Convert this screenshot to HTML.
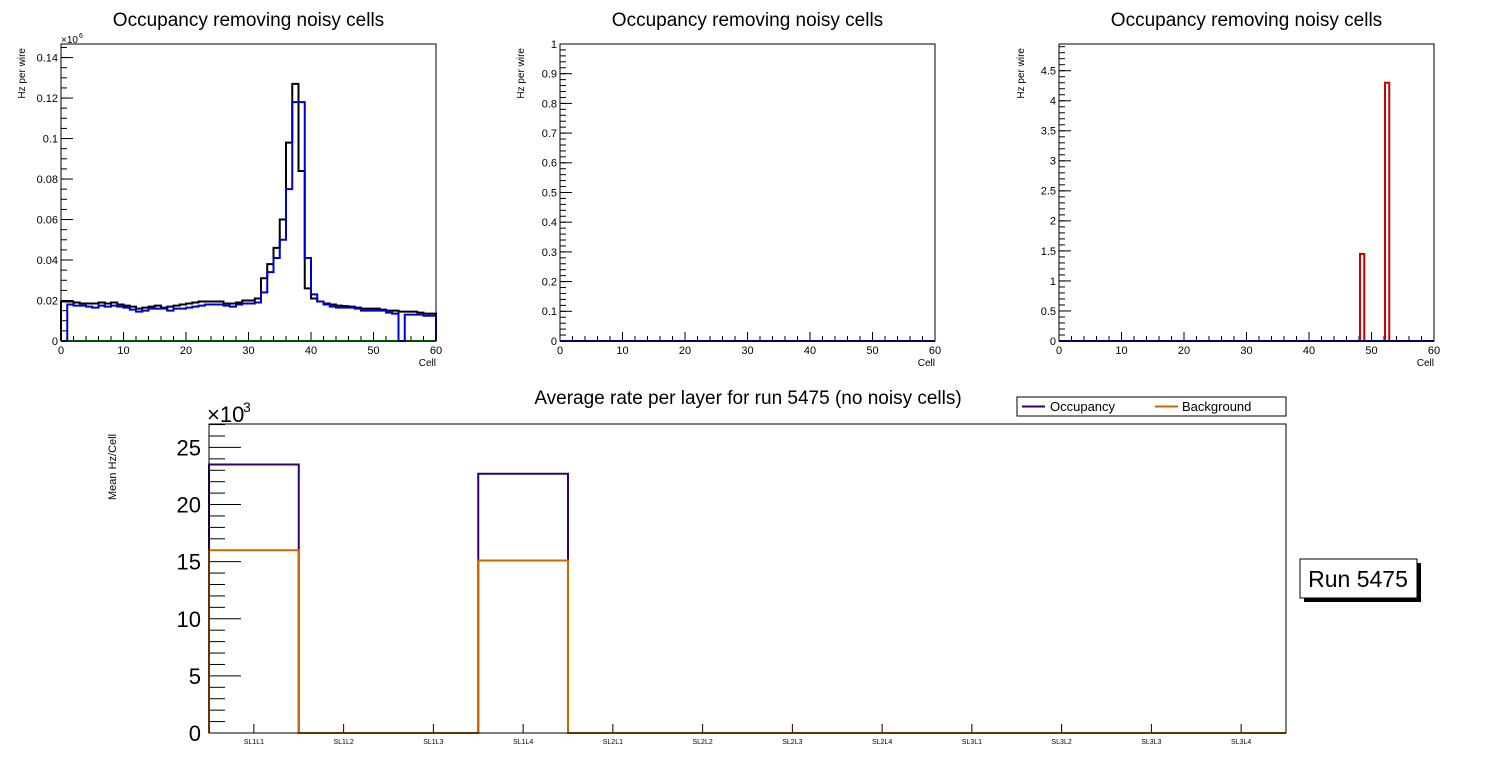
<!DOCTYPE html>
<html><head><meta charset="utf-8"><style>
body{margin:0;background:#fff;}
svg{display:block;font-family:"Liberation Sans",sans-serif;}
</style></head><body>
<svg id="c" width="1496" height="772" xmlns="http://www.w3.org/2000/svg"></svg>
<script>
const cells = Array.from({length:60},(_,i)=>i);
const occBlack = [0.0195,0.0195,0.019,0.0185,0.0185,0.0185,0.019,0.0185,0.019,0.018,0.0175,0.017,0.016,0.0165,0.017,0.0175,0.0165,0.017,0.0175,0.018,0.0185,0.019,0.0195,0.0195,0.0195,0.0195,0.0185,0.0185,0.019,0.02,0.02,0.021,0.031,0.038,0.046,0.060,0.098,0.127,0.084,0.026,0.021,0.0195,0.0185,0.018,0.0175,0.0172,0.017,0.0165,0.016,0.016,0.016,0.0155,0.015,0.015,0.0145,0.0145,0.0145,0.014,0.0135,0.0135];
const occBlue = [0,0.018,0.0175,0.0175,0.017,0.0165,0.0175,0.017,0.0175,0.017,0.0165,0.0155,0.0145,0.015,0.016,0.016,0.016,0.015,0.016,0.016,0.0165,0.017,0.0175,0.018,0.018,0.018,0.0175,0.017,0.018,0.0185,0.0185,0.019,0.024,0.034,0.041,0.050,0.075,0.118,0.118,0.041,0.023,0.0195,0.018,0.017,0.0165,0.0165,0.0165,0.016,0.015,0.015,0.015,0.015,0.014,0.0135,0,0.013,0.013,0.013,0.0125,0.0125];
const zeros60 = new Array(60).fill(0);
const noisyBins = [48,52];
const noisyVals = [1.45,4.3];
const layers = ["SL1L1","SL1L2","SL1L3","SL1L4","SL2L1","SL2L2","SL2L3","SL2L4","SL3L1","SL3L2","SL3L3","SL3L4"];
const occLayer = [23.5,0,0,22.7,0,0,0,0,0,0,0,0];
const bkgLayer = [16.0,0,0,15.1,0,0,0,0,0,0,0,0];
const ticksTL = ["0","0.02","0.04","0.06","0.08","0.1","0.12","0.14"];
const ticksTM = ["0","0.1","0.2","0.3","0.4","0.5","0.6","0.7","0.8","0.9","1"];
const ticksTR = ["0","0.5","1","1.5","2","2.5","3","3.5","4","4.5"];
const ticksB = ["0","5","10","15","20","25"];

const svg=document.getElementById('c');
const NS="http://www.w3.org/2000/svg";
function mk(tag,attrs,parent){const e=document.createElementNS(NS,tag);for(const k in attrs)e.setAttribute(k,attrs[k]);(parent||svg).appendChild(e);return e;}
function txt(s,x,y,size,anchor,parent,rot){const t=mk('text',{x:x,y:y,'font-size':size,'text-anchor':anchor||'start',fill:'#000'},parent);if(rot)t.setAttribute('transform',rot);t.textContent=s;return t;}

function panel(o){
  const g=mk('g',{});
  
  
  const sx=v=>o.x0+(v-o.xmin)/(o.xmax-o.xmin)*(o.x1-o.x0);
  const sy=v=>o.y1-(v/o.ymax)*(o.y1-o.y0);
  o.sx=sx;o.sy=sy;o.g=g;
  o.yt.forEach((lab,i)=>{
    const v=parseFloat(lab);const y=sy(v);
    const l=mk('line',{x1:o.x0,x2:o.x0+o.ymaj,y1:y,y2:y,stroke:'#000','stroke-width':1},g);
    
    const t=txt(lab,o.x0-3,y+o.yfs*0.35,o.yfs,'end',g);
    
  });
  for(let v=0;v<=o.ymax+1e-9;v+=o.ystepMin){
    const y=sy(v);mk('line',{x1:o.x0,x2:o.x0+o.ymaj/2,y1:y,y2:y,stroke:'#000','stroke-width':1},g);
  }
  if(o.xt){
    for(let v=0;v<=60;v+=2){const x=sx(v);mk('line',{x1:x,x2:x,y1:o.y1,y2:o.y1-(v%10==0?9:5),stroke:'#000','stroke-width':1},g);}
    for(let v=0;v<=60;v+=10){const t=txt(String(v),sx(v),o.y1+13,11,'middle',g);}
    const xt=txt('Cell',o.x1,o.y1+25,10,'end',g);
  }
  const yl=txt(o.ylab,o.ylx,o.y0+o.ylOff,o.ylfs,'end',g,'rotate(-90 '+o.ylx+' '+(o.y0+o.ylOff)+')');
  
  if(o.title){const t=txt(o.title,(o.x0+o.x1)/2,o.ty,o.tfs,'middle',g);}
  return o;
}
function frame(o){const r=mk('rect',{x:o.x0,y:o.y0,width:o.x1-o.x0,height:o.y1-o.y0,fill:'none',stroke:'#000','stroke-width':1},o.g);}
function hist(o,vals,color,name,sw){
  let d='';
  vals.forEach((v,i)=>{const xa=o.sx(i),xb=o.sx(i+1),y=o.sy(v);d+=(i==0?'M'+xa+','+o.sy(0)+' L':' L')+xa+','+y+' L'+xb+','+y;});
  d+=' L'+o.sx(vals.length)+','+o.sy(0);
  const p=mk('path',{d:d,fill:'none',stroke:color,'stroke-width':sw||2},o.g);
  
}
const base={y0:44,y1:341,xmin:0,xmax:60,ymaj:12,yfs:11,xt:true,ylab:'Hz per wire',ylfs:10,ylOff:4,ty:26,tfs:19,title:'Occupancy removing noisy cells'};

const A=panel(Object.assign({},base,{name:'occupancy-panel-1',x0:61,x1:436,ymax:0.1467,ystepMin:0.005,yt:ticksTL,ylx:25}));
hist(A,zeros60,'#00a000','series-green');
hist(A,occBlack,'#000','series-black');
hist(A,occBlue,'#0000cc','series-blue');
frame(A);
const ex=txt('×10',61,43,10,'start',A.g);
txt('6',79,38,7,'start',A.g);

const B=panel(Object.assign({},base,{name:'occupancy-panel-2',x0:560,x1:935,ymax:1,ystepMin:0.02,yt:ticksTM,ylx:524}));
hist(B,zeros60,'#0000cc','series-blue');
frame(B);

const C=panel(Object.assign({},base,{name:'occupancy-panel-3',x0:1059,x1:1434,ymax:4.945,ystepMin:0.1,yt:ticksTR,ylx:1024}));
noisyBins.forEach((b,i)=>{
  const r=mk('rect',{x:C.sx(b)+1,y:C.sy(noisyVals[i]),width:C.sx(b+1)-C.sx(b)-2,height:C.sy(0)-C.sy(noisyVals[i]),fill:'none',stroke:'#cc0000','stroke-width':2},C.g);
  
});
hist(C,zeros60,'#0000cc','series-blue');
frame(C);

const D={x0:209,x1:1286,y0:424,y1:733,ymax:27.05};
D.g=mk('g',{});
D.sx=i=>D.x0+i*(D.x1-D.x0)/layers.length;D.sy=v=>D.y1-v/D.ymax*(D.y1-D.y0);
for(let v=0;v<=27;v+=1){const y=D.sy(v);mk('line',{x1:D.x0,x2:D.x0+(v%5==0?32:16),y1:y,y2:y,stroke:'#000','stroke-width':1},D.g);}
ticksB.forEach(l=>{const t=txt(l,D.x0-8,D.sy(+l)+8,22,'end',D.g);});
layers.forEach((l,i)=>{const xc=(D.sx(i)+D.sx(i+1))/2;mk('line',{x1:xc,x2:xc,y1:D.y1,y2:D.y1-9,stroke:'#000'},D.g);
 const t=txt(l,xc,D.y1+11,7,'middle',D.g);});
hist(D,occLayer,'#330066','series-occupancy');
hist(D,bkgLayer,'#cc6600','series-background');
frame(D);
let t=txt('×10',207,422,22,'start',D.g);
txt('3',243,412,14,'start',D.g);
t=txt('Mean Hz/Cell',116,500,11,'start',D.g,'rotate(-90 116 500)');
t=txt('Average rate per layer for run 5475 (no noisy cells)',748,404,19,'middle',D.g);
const lg=mk('g',{});
mk('rect',{x:1017,y:397,width:269,height:19,fill:'#fff',stroke:'#000'},lg);
let le=mk('line',{x1:1022,x2:1045,y1:406.5,y2:406.5,stroke:'#330066','stroke-width':2},lg);
txt('Occupancy',1050,411,13,'start',lg);
le=mk('line',{x1:1155,x2:1178,y1:406.5,y2:406.5,stroke:'#cc6600','stroke-width':2},lg);
txt('Background',1182,411,13,'start',lg);
const rb=mk('g',{});
mk('rect',{x:1304,y:563,width:117,height:39,fill:'#000'},rb);
mk('rect',{x:1300,y:559,width:117,height:39,fill:'#fff',stroke:'#000'},rb);
txt('Run 5475',1358,587,23,'middle',rb);
</script>
</body></html>
